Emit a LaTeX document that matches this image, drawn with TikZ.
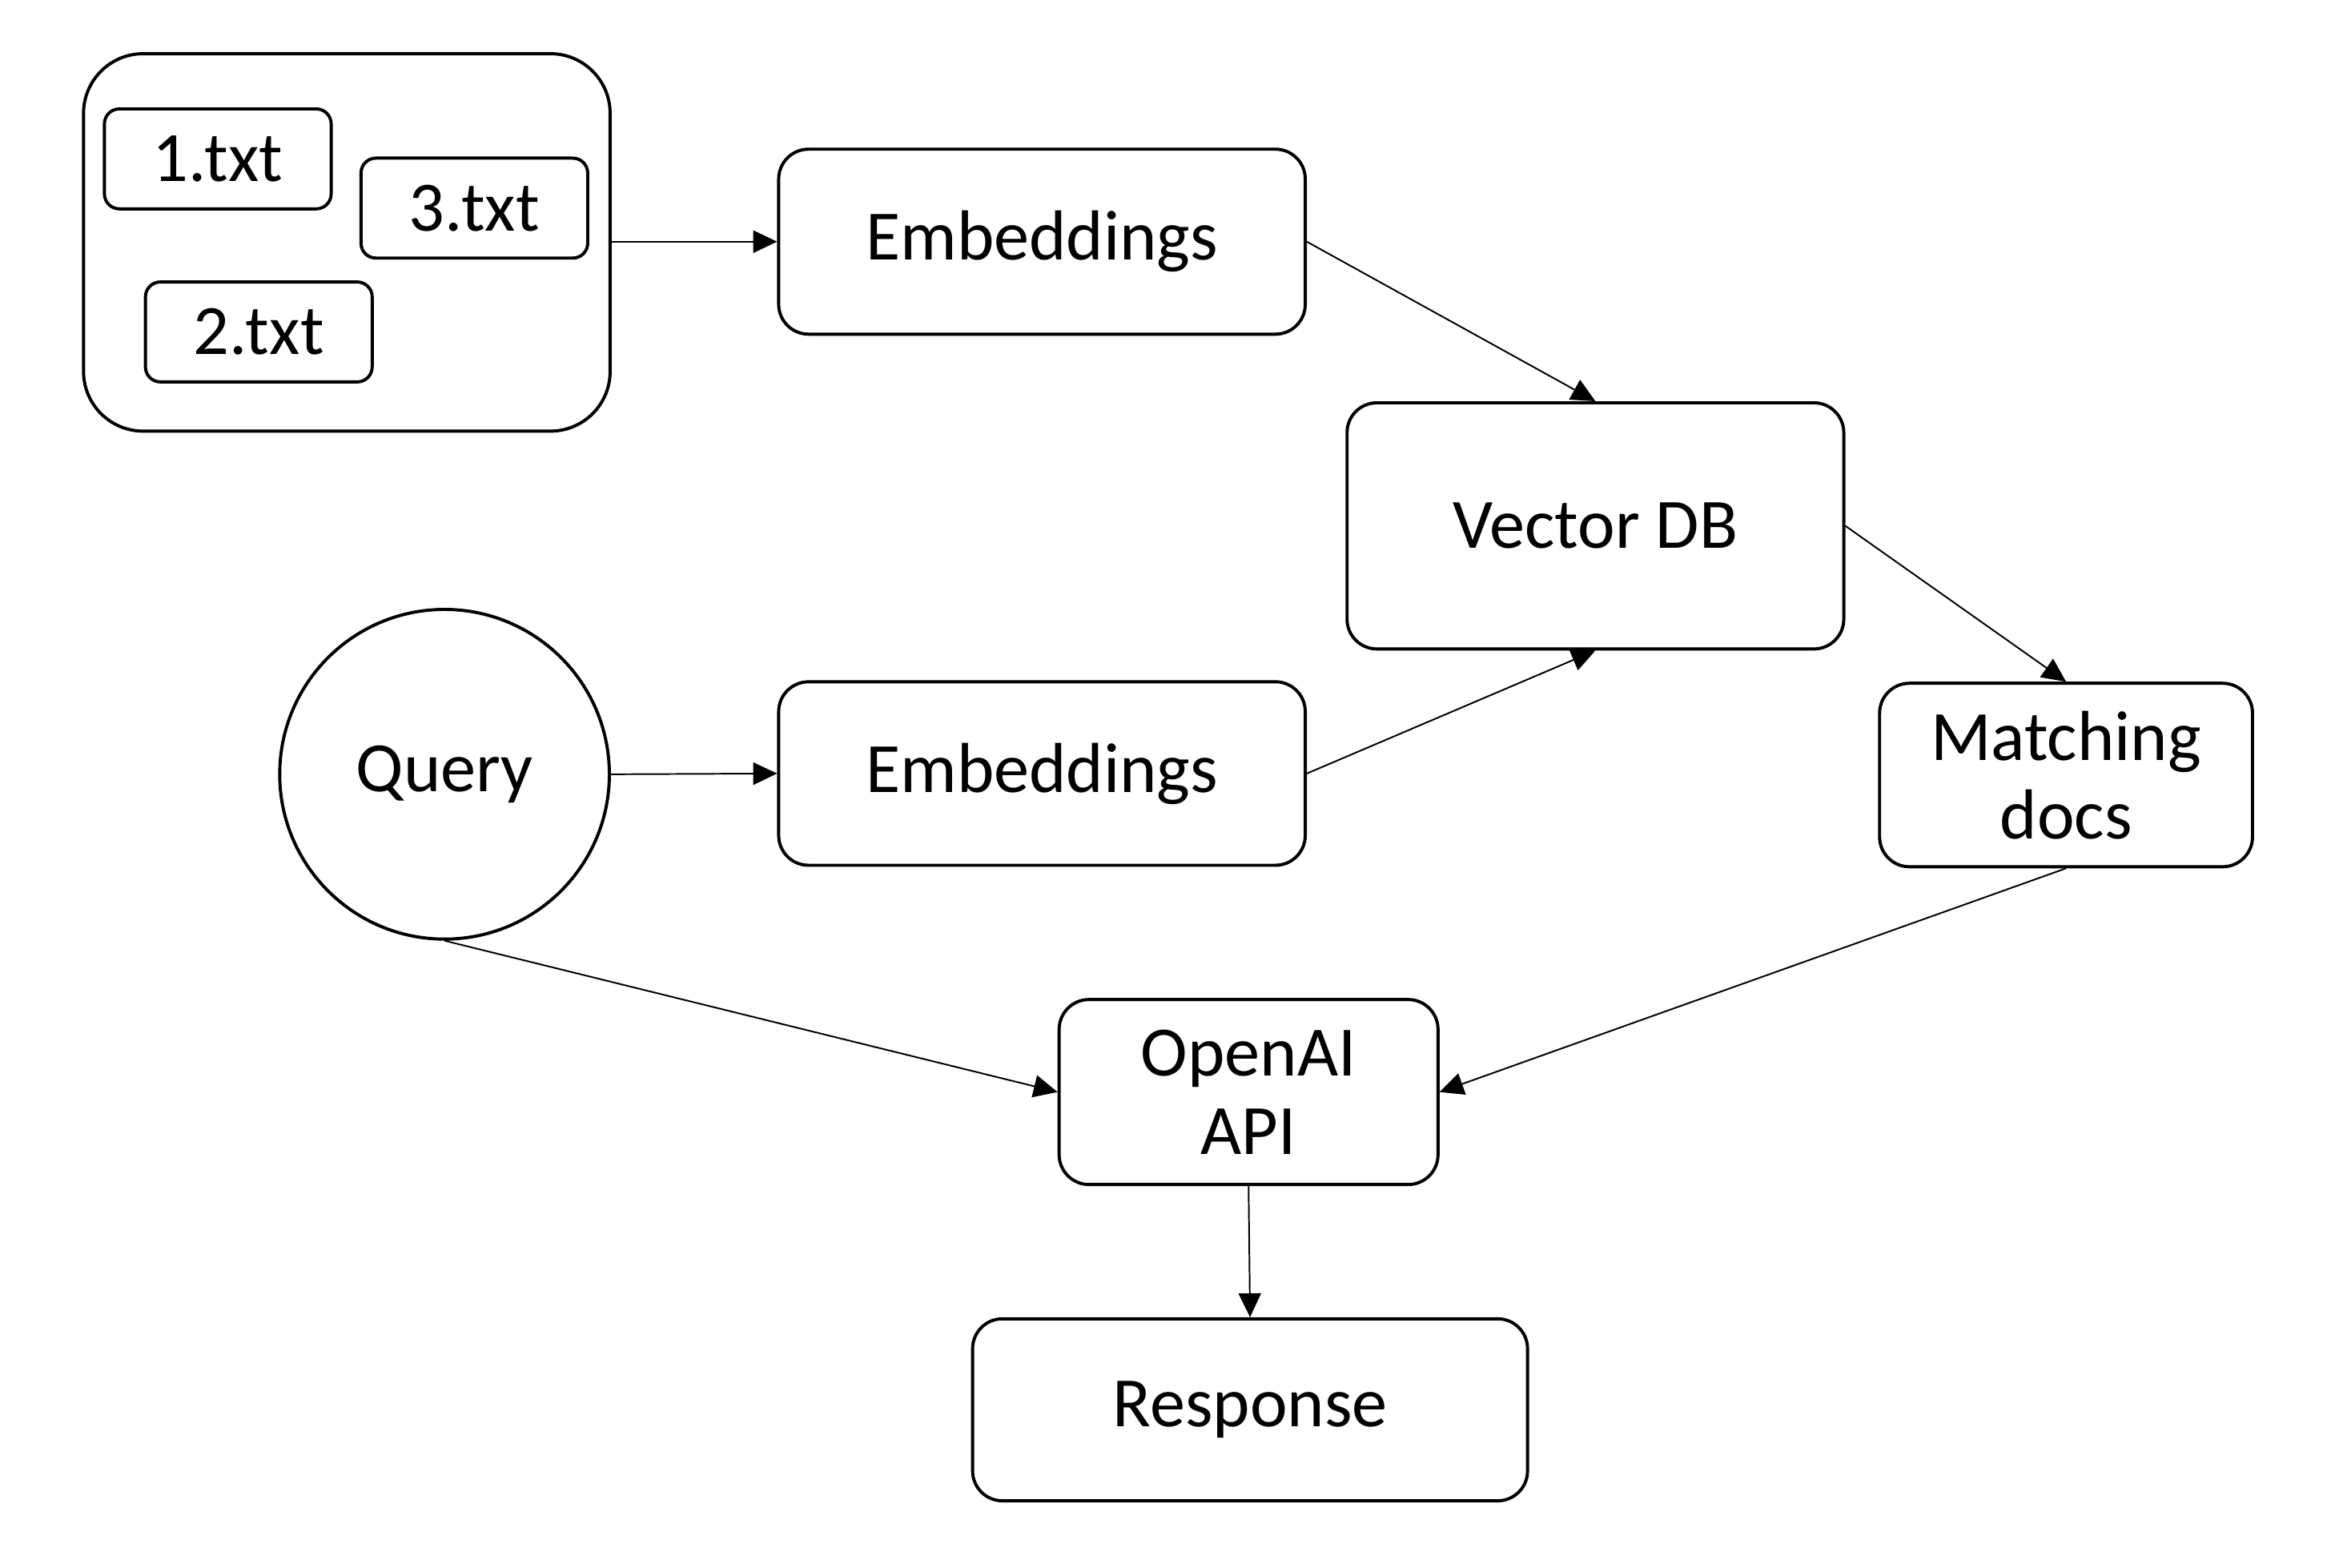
\documentclass[tikz,border=0pt]{standalone}
\usepackage{fontspec}
\setmainfont{Carlito}
\usetikzlibrary{arrows.meta}

\begin{document}
\begin{tikzpicture}
    \tikzset{box/.style = {shape=rectangle,draw,line width=0.6pt,rounded corners=0.2cm,inner sep=0pt,align=center,font=\fontsize{13.5}{15}\selectfont}}
    \tikzset{file/.style = {box,rounded corners=0.1cm,minimum width=1.52cm,minimum height=0.67cm}}
    \tikzset{edge/.style = {-{Triangle[length=0.16cm,width=0.15cm]},line width=0.3pt}}
    \useasboundingbox (0,0) rectangle (15.68,-10.51);
    % documents
    \node[box,rounded corners=0.4cm,minimum width=3.53cm,minimum height=2.53cm] (docs) at (2.325,-1.625) {};
    \node[file] (t1) at (1.46,-1.065) {1.txt};
    \node[file] (t3) at (3.18,-1.395) {3.txt};
    \node[file] (t2) at (1.735,-2.225) {2.txt};
    % pipeline
    \node[box,minimum width=3.53cm,minimum height=1.24cm] (emb1) at (6.985,-1.62) {Embeddings};
    \node[box,minimum width=3.33cm,minimum height=1.65cm] (vdb) at (10.695,-3.525) {Vector DB};
    \node[shape=circle,draw,line width=0.6pt,minimum size=2.21cm,inner sep=0pt,font=\fontsize{13.5}{15}\selectfont] (query) at (2.98,-5.19) {Query};
    \node[box,minimum width=3.53cm,minimum height=1.23cm] (emb2) at (6.985,-5.185) {Embeddings};
    \node[box,minimum width=2.5cm,minimum height=1.23cm] (match) at (13.85,-5.195) {Matching\\docs};
    \node[box,minimum width=2.54cm,minimum height=1.24cm] (api) at (8.37,-7.32) {OpenAI\\API};
    \node[box,minimum width=3.72cm,minimum height=1.22cm] (resp) at (8.38,-9.45) {Response};
    % connectors
    \draw[edge] (docs.east |- emb1.west) -- (emb1.west);
    \draw[edge] (emb1.east) -- (vdb.north);
    \draw[edge] (query.east) -- (emb2.west);
    \draw[edge] (emb2.east) -- (vdb.south);
    \draw[edge] (vdb.east) -- (match.north);
    \draw[edge] (match.south) -- (api.east);
    \draw[edge] (query.south) -- (api.west);
    \draw[edge] (api.south) -- (resp.north);
\end{tikzpicture}
\end{document}
